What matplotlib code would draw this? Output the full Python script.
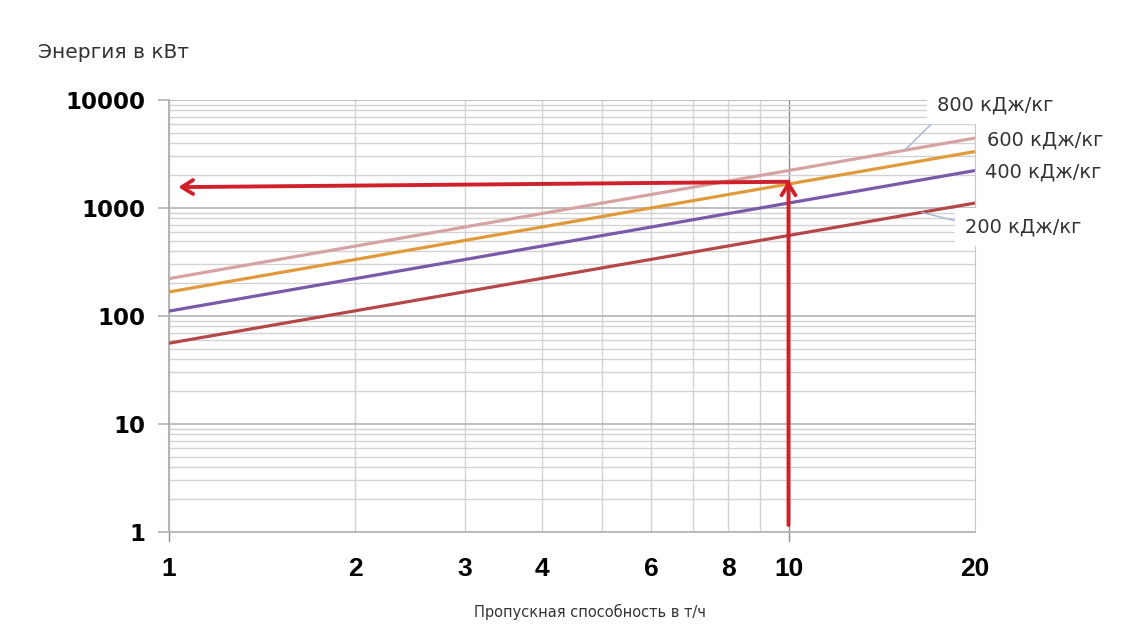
import numpy as np
import matplotlib
matplotlib.use("Agg")
import matplotlib.pyplot as plt
from matplotlib.ticker import FixedLocator, NullFormatter

# throughput, t/h (line end points)
throughput = [1, 20]
# energy, kW, for each specific enthalpy
energy_800 = [222, 4444]
energy_600 = [167, 3333]
energy_400 = [111, 2222]
energy_200 = [56, 1111]

series_labels = ["800 кДж/кг", "600 кДж/кг", "400 кДж/кг", "200 кДж/кг"]
series_colors = ["#d6a2a2", "#e09a3c", "#7a5aa8", "#b44848"]

x_ticks = [1, 2, 3, 4, 6, 8, 10, 20]
x_grid = [1, 2, 3, 4, 5, 6, 7, 8, 9, 10]
y_ticks = [1, 10, 100, 1000, 10000]

# worked example: 10 t/h -> ~1700 kW
example_x = 10
example_y_start = 1.16
example_y_top = 1800
example_y_right = 1750
example_y_left = 1560
example_x_left = 1.035

W, H = 1148, 630
fig = plt.figure(figsize=(W / 100, H / 100), dpi=100)
ax = fig.add_axes([169 / W, 1 - 532 / H, (975 - 169) / W, (532 - 100) / H])

ax.set_xscale("log")
ax.set_yscale("log")
ax.set_xlim(1, 20)
ax.set_ylim(1, 10000)

# grid
for gx in x_grid:
    col = "#8c8c8c" if gx == 10 else "#d2d2d2"
    ax.axvline(gx, color=col, lw=1.0, zorder=1)
for dec in [1, 10, 100, 1000]:
    for m in range(2, 10):
        ax.axhline(dec * m, color="#d2d2d2", lw=1.0, zorder=1)
for yt in y_ticks:
    ax.axhline(yt, color="#b4b4b4", lw=1.2, zorder=1)

ax.spines["top"].set_visible(False)
ax.spines["left"].set_color("#b4b4b4")
ax.spines["right"].set_color("#c8c8c8")
ax.spines["bottom"].set_color("#b4b4b4")
ax.spines["left"].set_linewidth(1.5)
ax.spines["bottom"].set_linewidth(1.2)

series = [energy_800, energy_600, energy_400, energy_200]
for vals, col in zip(series, series_colors):
    ax.plot(throughput, vals, color=col, lw=2.3, zorder=3, solid_capstyle="butt")

# example arrows
arrow_col = "#d0202a"
astyle = "->,head_length=0.8,head_width=0.5"
ax.annotate("", xy=(example_x, example_y_top), xytext=(example_x, example_y_start),
            arrowprops=dict(arrowstyle=astyle, color=arrow_col, lw=2.8,
                            shrinkA=0, shrinkB=0), zorder=5)
ax.annotate("", xy=(example_x_left, example_y_left), xytext=(example_x, example_y_right),
            arrowprops=dict(arrowstyle=astyle, color=arrow_col, lw=2.8,
                            shrinkA=0, shrinkB=0), zorder=5)

# ticks
ax.xaxis.set_major_locator(FixedLocator(x_ticks))
ax.xaxis.set_minor_formatter(NullFormatter())
ax.xaxis.set_minor_locator(FixedLocator([]))
ax.set_xticklabels([str(v) for v in x_ticks])
ax.yaxis.set_major_locator(FixedLocator(y_ticks))
ax.yaxis.set_minor_locator(FixedLocator([]))
ax.set_yticklabels([str(v) for v in y_ticks])

ax.tick_params(axis="x", length=0, pad=18)
ax.tick_params(axis="y", length=8, width=1.2, color="#b4b4b4", pad=9)
for lab in ax.get_xticklabels():
    lab.set_family(["Liberation Sans Narrow", "Liberation Sans", "DejaVu Sans"])
    lab.set_fontweight("bold")
    lab.set_fontsize(19)
for lab in ax.get_yticklabels():
    lab.set_family(["DejaVu Sans"])
    lab.set_fontweight("bold")
    lab.set_fontsize(16.5)
# tick marks below x axis at 1 and 10
for tx in [1, 10]:
    ax.plot([tx, tx], [1, 0.82], color="#8c8c8c", lw=1.0, clip_on=False, zorder=2)

# labels
fig.text(38 / W, 1 - 52 / H, "Энергия в кВт", fontsize=14.5, color="#333333",
         va="center", ha="left", family=["DejaVu Sans"])
fig.text(590 / W, 1 - 612 / H, "Пропускная способность в т/ч", fontsize=10.5,
         color="#333333", ha="center", va="center",
         family=["Liberation Sans Narrow", "DejaVu Sans"])


def on_line(vals, xq):
    return 10 ** np.interp(np.log10(xq), np.log10(throughput), np.log10(vals))


leader = "#a4b4d4"
lab_kw = dict(fontsize=14, color="#333333", va="center", ha="left",
              textcoords="figure pixels", family=["DejaVu Sans"])
ax.annotate(series_labels[0], xy=(15.4, on_line(energy_800, 15.4)),
            xytext=(937, H - 105), annotation_clip=False,
            bbox=dict(boxstyle="square,pad=0.5", fc="white", ec="none"),
            arrowprops=dict(arrowstyle="-", color=leader, lw=1.0, shrinkA=0, shrinkB=0,
                            relpos=(0.05, 0.1)),
            zorder=6, **lab_kw)
ax.annotate(series_labels[1], xy=(20, energy_600[1]), xytext=(987, H - 140),
            annotation_clip=False, zorder=6, **lab_kw)
ax.annotate(series_labels[2], xy=(20, energy_400[1]), xytext=(985, H - 172),
            annotation_clip=False, zorder=6, **lab_kw)
ax.annotate(series_labels[3], xy=(16.4, on_line(energy_200, 16.4)),
            xytext=(965, H - 227), annotation_clip=False,
            bbox=dict(boxstyle="square,pad=0.5", fc="white", ec="none"),
            arrowprops=dict(arrowstyle="-", color=leader, lw=1.0, shrinkA=0, shrinkB=0,
                            relpos=(0.0, 0.7)),
            zorder=6, **lab_kw)

fig.savefig("out.png", dpi=100, facecolor="white")
